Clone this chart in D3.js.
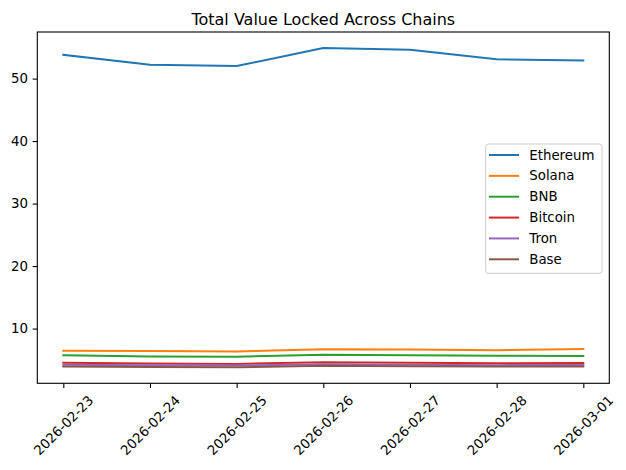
<!DOCTYPE html>
<html>
<head>
<meta charset="utf-8">
<script src="https://cdn.jsdelivr.net/npm/d3@7"></script>
<style>
  body { margin: 0; background: #fff; }
  svg { font-family: "DejaVu Sans", sans-serif; }
</style>
</head>
<body>
<svg id="chart" width="626" height="470"></svg>
<script>
const dates = ["2026-02-23","2026-02-24","2026-02-25","2026-02-26","2026-02-27","2026-02-28","2026-03-01"];
const seriesNames = ["Ethereum","Solana","BNB","Bitcoin","Tron","Base"];
const ethereum = [53.8, 52.2, 52.0, 54.9, 54.6, 53.1, 52.9];
const solana   = [6.47, 6.40, 6.33, 6.68, 6.65, 6.55, 6.72];
const bnb      = [5.72, 5.55, 5.51, 5.83, 5.72, 5.65, 5.62];
const bitcoin  = [4.55, 4.42, 4.35, 4.62, 4.52, 4.45, 4.48];
const tron     = [4.22, 4.12, 4.08, 4.28, 4.22, 4.15, 4.18];
const base     = [3.95, 3.85, 3.80, 4.05, 3.98, 3.92, 3.95];
const yTicks = [10, 20, 30, 40, 50];
const colors = ["#1f77b4","#ff7f0e","#2ca02c","#d62728","#9467bd","#8c564b"];

const seriesValues = [ethereum, solana, bnb, bitcoin, tron, base];

const svg = d3.select("#chart");
const L = 37.3, R = 609.3, T = 32, B = 383.3;

const x = d3.scalePoint().domain(dates).range([0, 1]);
const n = dates.length - 1;
const xLin = d3.scaleLinear().domain([-0.3, n + 0.3]).range([L, R]);
const xp = d => xLin(dates.indexOf(d));

const all = seriesValues.flat();
const mn = d3.min(all), mx = d3.max(all), pad = (mx - mn) * 0.05;
const y = d3.scaleLinear().domain([mn - pad, mx + pad]).range([B, T]);

// lines
const line = d3.line().x((v, i) => xp(dates[i])).y(v => y(v));
seriesValues.forEach((vals, k) => {
  svg.append("path").datum(vals)
    .attr("d", line)
    .attr("fill", "none")
    .attr("stroke", colors[k])
    .attr("stroke-width", 2)
    .attr("stroke-linejoin", "round")
    .attr("stroke-linecap", "square");
});

// frame
svg.append("rect").attr("x", L).attr("y", T).attr("width", R - L).attr("height", B - T)
  .attr("fill", "none").attr("stroke", "#000").attr("stroke-width", 1.1);

// y axis
const yAxis = d3.axisLeft(y).tickValues(yTicks).tickSize(4.67).tickPadding(4.67);
const gy = svg.append("g").attr("transform", `translate(${L},0)`).call(yAxis);
gy.select(".domain").remove();
gy.selectAll("text").attr("font-size", "13.33px").attr("fill", "#000").attr("font-family", "DejaVu Sans");
gy.selectAll("line").attr("stroke", "#000").attr("stroke-width", 1.1);

// x axis
const xAxis = d3.axisBottom(d3.scalePoint().domain(dates).range([xp(dates[0]), xp(dates[n])])).tickSize(4.67);
const gx = svg.append("g").attr("transform", `translate(0,${B})`).call(xAxis);
gx.select(".domain").remove();
gx.selectAll("line").attr("stroke", "#000").attr("stroke-width", 1.1);
gx.selectAll("text")
  .attr("font-size", "13.33px").attr("fill", "#000").attr("font-family", "DejaVu Sans")
  .attr("text-anchor", "middle").attr("dominant-baseline", "central")
  .attr("y", 0).attr("dy", 0)
  .attr("transform", "translate(0,42.2) rotate(-45)");

// title
svg.append("text").attr("x", (L + R) / 2).attr("y", 25)
  .attr("text-anchor", "middle").attr("font-size", "16px").attr("fill", "#000")
  .text("Total Value Locked Across Chains");

// legend
const lg = svg.append("g");
lg.append("rect").attr("x", 485.7).attr("y", 144).attr("width", 116.3).attr("height", 129.3)
  .attr("rx", 2.5).attr("fill", "#fff").attr("fill-opacity", 0.8)
  .attr("stroke", "#cccccc").attr("stroke-width", 1);
seriesNames.forEach((name, k) => {
  const cy = 155 + k * 20.86;
  lg.append("line").attr("x1", 489).attr("x2", 519).attr("y1", cy).attr("y2", cy)
    .attr("stroke", colors[k]).attr("stroke-width", 2);
  lg.append("text").attr("x", 529.3).attr("y", cy).attr("dominant-baseline", "central")
    .attr("font-size", "13.33px").attr("fill", "#000").text(name);
});
</script>
</body>
</html>
